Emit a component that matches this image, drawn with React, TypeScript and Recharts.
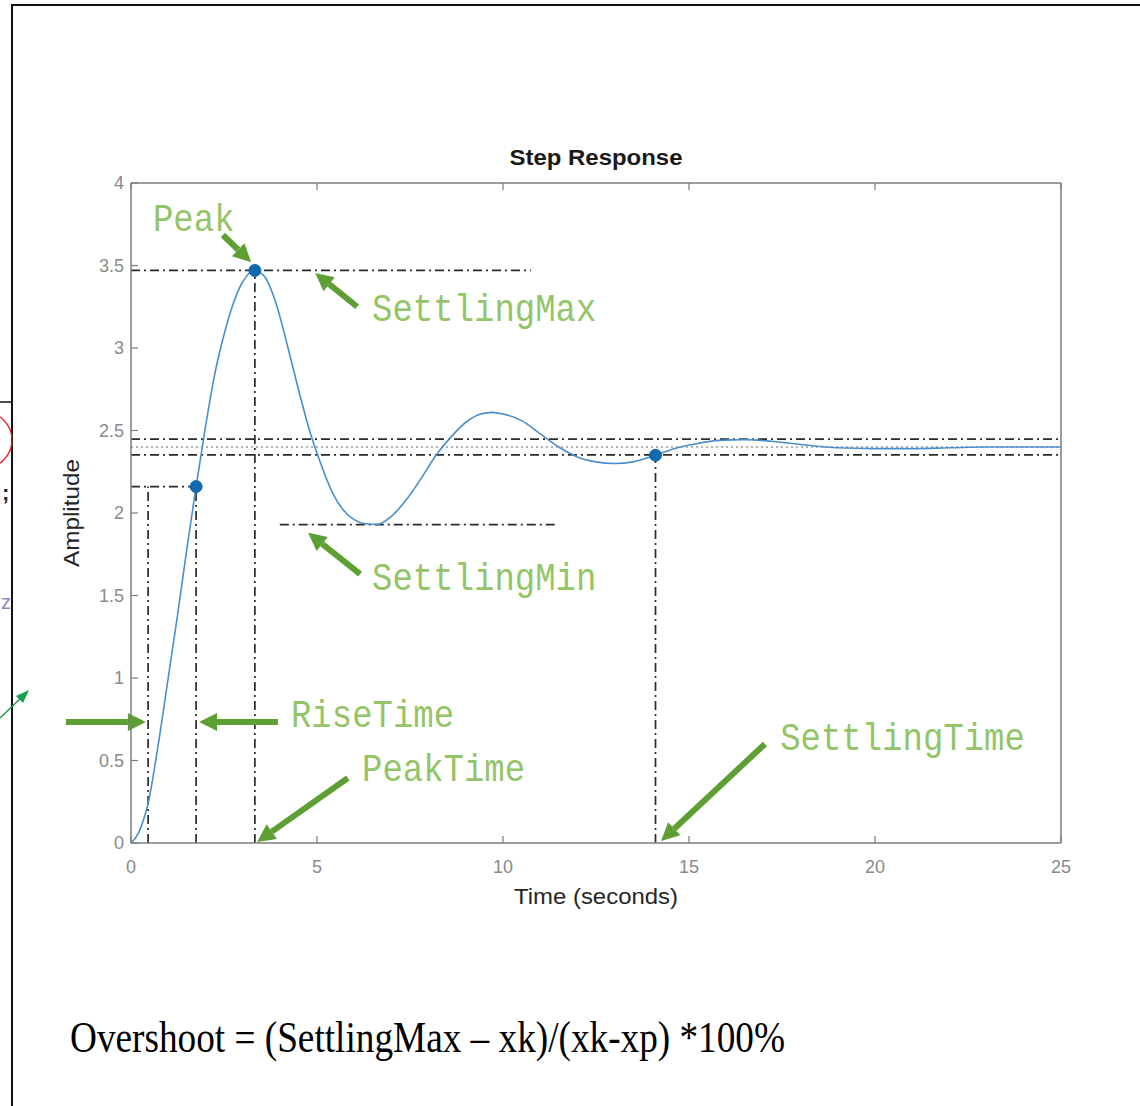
import React from 'react'
import { ComposedChart, Line, XAxis, YAxis, ReferenceLine, ReferenceDot, Label } from 'recharts'

// step response
const time = [0, 0.2, 0.35, 0.46, 0.7, 1.0, 1.25, 1.5, 1.75, 2.0, 2.25, 2.5, 2.75, 3.0, 3.33, 3.6, 3.9, 4.2, 4.5, 4.8, 5.1, 5.4, 5.7, 6.0, 6.3, 6.6, 7.0, 7.4, 7.8, 8.2, 8.6, 9.0, 9.4, 9.7, 10.0, 10.5, 11.0, 11.5, 12.0, 12.5, 13.0, 13.5, 14.1, 14.6, 15.2, 15.8, 16.5, 17.2, 18.0, 19.0, 20.0, 21.0, 22.0, 23.0, 24.0, 25.0]
const amplitude = [0, 0.06, 0.15, 0.24, 0.55, 1.0, 1.38, 1.78, 2.16, 2.52, 2.84, 3.08, 3.27, 3.4, 3.47, 3.43, 3.27, 3.02, 2.75, 2.5, 2.3, 2.13, 2.02, 1.96, 1.935, 1.93, 1.98, 2.08, 2.21, 2.35, 2.46, 2.55, 2.6, 2.61, 2.6, 2.56, 2.48, 2.4, 2.34, 2.31, 2.3, 2.31, 2.35, 2.39, 2.42, 2.44, 2.445, 2.435, 2.415, 2.395, 2.39, 2.39, 2.395, 2.4, 2.4, 2.4]

const xTicks = [0, 5, 10, 15, 20, 25]
const yTicks = [0, 0.5, 1, 1.5, 2, 2.5, 3, 3.5, 4]

// characteristics (stepinfo)
const finalValue = 2.4
const bandHigh = 2.448
const bandLow = 2.352
const peakTime = 3.33
const peakValue = 3.47
const riseStart = 0.46
const riseEnd = 1.75
const riseValue = 2.16
const settlingMin = 1.93
const settlingTime = 14.1
const settlingValue = 2.35

// dash-dot guides: [t1, a1, t2, a2]
const guides = [
  [0, peakValue, 10.75, peakValue],
  [peakTime, 0, peakTime, peakValue],
  [0, riseValue, riseEnd, riseValue],
  [riseStart, 0, riseStart, riseValue],
  [riseEnd, 0, riseEnd, riseValue],
  [4.0, settlingMin, 11.45, settlingMin],
  [settlingTime, 0, settlingTime, settlingValue],
]

const markerT = [riseEnd, peakTime, settlingTime]
const markerA = [riseValue, peakValue, settlingValue]

// green annotations
const noteText = ['Peak', 'SettlingMax', 'SettlingMin', 'RiseTime', 'PeakTime', 'SettlingTime']
const noteT = [0.59, 6.48, 6.48, 4.3, 6.21, 17.45]
const noteA = [3.776, 3.236, 1.606, 0.77, 0.448, 0.636]
const arrows = [
  [2.47, 3.685, 3.23, 3.52],
  [6.08, 3.25, 4.95, 3.455],
  [6.16, 1.63, 4.76, 1.88],
  [-1.75, 0.733, 0.4, 0.733],
  [3.95, 0.733, 1.83, 0.733],
  [5.83, 0.394, 3.39, 0.006],
  [17.04, 0.6, 14.25, 0.012],
]

const data = time.map((t, i) => ({ t, a: amplitude[i] }))

const axisGrey = '#7c7c7c'
const tickGrey = '#8a8a8a'
const curveBlue = '#4a8fcb'
const dotBlue = '#0f6aae'
const green = '#5d9f32'
const textGreen = '#94c468'
const guideColor = '#2a2a2a'
const dashDot = '9 4 2 4'
const sans = '"Liberation Sans", Arial, sans-serif'

const BottomTick = ({ x, y, payload }: any) => (
  <g>
    <line x1={x} y1={y} x2={x} y2={y - 7} stroke={axisGrey} strokeWidth={1.2} />
    <text x={x} y={y + 30} textAnchor="middle" fill={tickGrey} fontSize={18} fontFamily={sans}>{payload.value}</text>
  </g>
)
const TopTick = ({ x, y }: any) => <line x1={x} y1={y} x2={x} y2={y + 7} stroke={axisGrey} strokeWidth={1.2} />
const LeftTick = ({ x, y, payload }: any) => (
  <g>
    <line x1={x} y1={y} x2={x + 7} y2={y} stroke={axisGrey} strokeWidth={1.2} />
    <text x={x - 7} y={y + 6} textAnchor="end" fill={tickGrey} fontSize={18} fontFamily={sans}>{payload.value}</text>
  </g>
)
const RightTick = ({ x, y }: any) => <line x1={x} y1={y} x2={x - 7} y2={y} stroke={axisGrey} strokeWidth={1.2} />

const Arrow = (p: any) => {
  const { x1, y1, x2, y2 } = p
  const ang = Math.atan2(y2 - y1, x2 - x1)
  const len = 18
  const half = 9
  const bx = x2 - len * Math.cos(ang)
  const by = y2 - len * Math.sin(ang)
  const nx = -Math.sin(ang)
  const ny = Math.cos(ang)
  return (
    <g>
      <line x1={x1} y1={y1} x2={bx} y2={by} stroke={green} strokeWidth={6} />
      <polygon points={`${x2},${y2} ${bx + nx * half},${by + ny * half} ${bx - nx * half},${by - ny * half}`} fill={green} />
    </g>
  )
}

const noteShape = (text: string) => (p: any) => (
  <text x={p.cx} y={p.cy} transform={`translate(0 ${p.cy}) scale(1 1.15) translate(0 ${-p.cy})`} dy={10} fill={textGreen} fontSize={34} fontFamily='"Liberation Mono", "Courier New", monospace'>{text}</text>
)

export default function App() {
  return (
    <div style={{ position: 'absolute', left: 0, top: 0, width: 1140, height: 1106, background: '#fff', overflow: 'hidden' }}>
      <svg width={1140} height={1106} style={{ position: 'absolute', left: 0, top: 0 }}>
        <line x1={11} y1={5} x2={1140} y2={5} stroke="#111" strokeWidth={2} />
        <line x1={12} y1={5} x2={12} y2={1106} stroke="#111" strokeWidth={2} />
        <line x1={0} y1={402} x2={12} y2={402} stroke="#111" strokeWidth={1.5} />
        <circle cx={-16} cy={440} r={28} fill="none" stroke="#e02020" strokeWidth={1.3} />
        <text x={2} y={500} fontSize={22} fontWeight="bold" fill="#222" fontFamily={sans}>;</text>
        <text x={1} y={609} fontSize={20} fill="#9b7fc7" fontFamily={sans}>z</text>
        <line x1={0} y1={718} x2={22} y2={697} stroke="#1aa050" strokeWidth={1.5} />
        <polygon points="29,690 16,696 23,703" fill="#1aa050" />
        <text x={70} y={1052} fontSize={44} textLength={715} lengthAdjust="spacingAndGlyphs" fill="#000" fontFamily='"Liberation Serif", "Times New Roman", serif'>
          Overshoot = (SettlingMax – xk)/(xk-xp) *100%
        </text>
      </svg>
      <div style={{ position: 'absolute', left: 0, top: 0 }}>
        <ComposedChart width={1140} height={1106} data={data} margin={{ top: 133, right: 59, bottom: 203, left: 51 }}>
          <XAxis dataKey="t" type="number" domain={[0, 25]} ticks={xTicks} height={60} tickSize={0} tickMargin={0} tickLine={false}
            axisLine={{ stroke: axisGrey, strokeWidth: 1.5 }} tick={<BottomTick />} interval={0}>
            <Label content={(p: any) => (
              <text x={p.viewBox.x + p.viewBox.width / 2} y={p.viewBox.y + 61} textAnchor="middle" fontSize={22} textLength={164} lengthAdjust="spacingAndGlyphs" fill="#262626" fontFamily={sans}>Time (seconds)</text>
            )} />
          </XAxis>
          <XAxis xAxisId="top" orientation="top" dataKey="t" type="number" domain={[0, 25]} ticks={xTicks} height={50} tickSize={0} tickMargin={0} tickLine={false}
            axisLine={{ stroke: axisGrey, strokeWidth: 1.5 }} tick={<TopTick />} interval={0}>
            <Label content={(p: any) => (
              <text x={p.viewBox.x + p.viewBox.width / 2} y={p.viewBox.y + 32} textAnchor="middle" fontSize={22} fontWeight="bold" textLength={173} lengthAdjust="spacingAndGlyphs" fill="#1a1a1a" fontFamily={sans}>Step Response</text>
            )} />
          </XAxis>
          <YAxis type="number" domain={[0, 4]} ticks={yTicks} width={80} tickSize={0} tickMargin={0} tickLine={false}
            axisLine={{ stroke: axisGrey, strokeWidth: 1.5 }} tick={<LeftTick />} interval={0}>
            <Label content={(p: any) => {
              const cx = p.viewBox.x + 21
              const cy = p.viewBox.y + p.viewBox.height / 2
              return (
                <text x={cx} y={cy} transform={`rotate(-90 ${cx} ${cy})`} dy={7} textAnchor="middle" fontSize={22} textLength={108} lengthAdjust="spacingAndGlyphs" fill="#262626" fontFamily={sans}>Amplitude</text>
              )
            }} />
          </YAxis>
          <YAxis yAxisId="right" orientation="right" type="number" domain={[0, 4]} ticks={yTicks} width={20} tickSize={0} tickMargin={0} tickLine={false}
            axisLine={{ stroke: axisGrey, strokeWidth: 1.5 }} tick={<RightTick />} interval={0} />

          <ReferenceLine y={bandHigh} stroke={guideColor} strokeWidth={1.8} strokeDasharray={dashDot} />
          <ReferenceLine y={bandLow} stroke={guideColor} strokeWidth={1.8} strokeDasharray={dashDot} />
          <ReferenceLine y={finalValue} stroke="#666" strokeWidth={1} strokeDasharray="2 3" />
          {guides.map((g, i) => (
            <ReferenceLine key={'g' + i} segment={[{ x: g[0], y: g[1] }, { x: g[2], y: g[3] }]} stroke={guideColor} strokeWidth={1.7} strokeDasharray={dashDot} />
          ))}

          <Line dataKey="a" type="monotone" stroke={curveBlue} strokeWidth={1.6} dot={false} isAnimationActive={false} />

          {markerT.map((t, i) => (
            <ReferenceDot key={'m' + i} x={t} y={markerA[i]} r={6} fill={dotBlue} stroke={dotBlue} />
          ))}
          {arrows.map((a, i) => (
            <ReferenceLine key={'a' + i} segment={[{ x: a[0], y: a[1] }, { x: a[2], y: a[3] }]} ifOverflow="visible" shape={Arrow} />
          ))}
          {noteText.map((txt, i) => (
            <ReferenceDot key={'n' + i} x={noteT[i]} y={noteA[i]} r={1} ifOverflow="visible" shape={noteShape(txt)} />
          ))}
        </ComposedChart>
      </div>
    </div>
  )
}
